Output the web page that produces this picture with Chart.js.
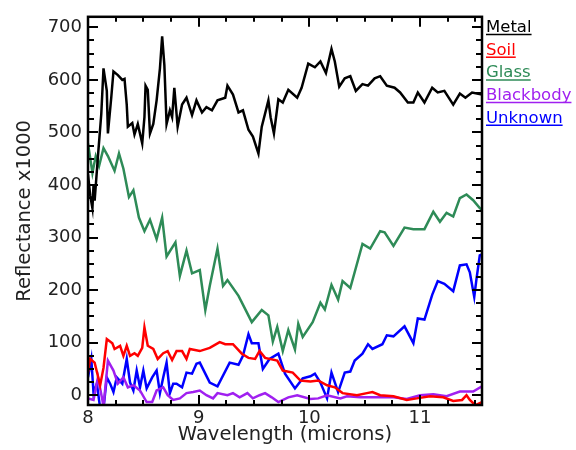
<!DOCTYPE html>
<html>
<head>
<meta charset="utf-8">
<script src="https://cdn.jsdelivr.net/npm/chart.js@4.4.0/dist/chart.umd.min.js"></script>
<style>
  html, body { margin: 0; padding: 0; background: #fff; }
</style>
</head>
<body>
<canvas id="spectraChart" width="576" height="450"></canvas>
<script>
'use strict'

// values (reflectance x1000)
const metalWl = [8.00, 8.02, 8.04, 8.05, 8.06, 8.09, 8.12, 8.14, 8.17, 8.18, 8.21, 8.23, 8.27, 8.31, 8.33, 8.35, 8.36, 8.40, 8.42, 8.45, 8.49, 8.51, 8.52, 8.54, 8.56, 8.59, 8.62, 8.65, 8.67, 8.69, 8.71, 8.74, 8.76, 8.78, 8.81, 8.85, 8.89, 8.94, 8.98, 9.03, 9.07, 9.12, 9.17, 9.24, 9.26, 9.31, 9.36, 9.40, 9.45, 9.49, 9.54, 9.57, 9.63, 9.65, 9.68, 9.72, 9.76, 9.81, 9.89, 9.93, 9.99, 10.05, 10.10, 10.15, 10.20, 10.23, 10.27, 10.32, 10.37, 10.42, 10.48, 10.53, 10.59, 10.64, 10.70, 10.77, 10.82, 10.89, 10.94, 10.98, 11.04, 11.11, 11.16, 11.22, 11.30, 11.36, 11.41, 11.47, 11.56];
const metalVal = [420, 380, 356, 400, 370, 455, 535, 622, 579, 498, 566, 616, 609, 600, 602, 553, 511, 518, 496, 516, 479, 529, 589, 581, 498, 516, 561, 622, 683, 628, 516, 542, 529, 585, 511, 553, 566, 533, 561, 538, 548, 542, 561, 566, 589, 572, 538, 542, 505, 492, 460, 511, 561, 529, 498, 563, 557, 581, 566, 585, 631, 624, 635, 613, 659, 635, 587, 603, 607, 579, 592, 589, 603, 607, 589, 585, 576, 557, 557, 576, 557, 585, 576, 579, 553, 574, 566, 576, 572];

const soilWl = [8.00, 8.02, 8.06, 8.11, 8.14, 8.17, 8.22, 8.24, 8.29, 8.32, 8.35, 8.38, 8.42, 8.45, 8.49, 8.51, 8.54, 8.59, 8.63, 8.68, 8.72, 8.76, 8.80, 8.85, 8.89, 8.92, 9.01, 9.10, 9.19, 9.24, 9.31, 9.39, 9.45, 9.51, 9.55, 9.60, 9.71, 9.76, 9.85, 9.92, 10.01, 10.08, 10.16, 10.23, 10.30, 10.43, 10.52, 10.57, 10.64, 10.76, 10.88, 10.97, 11.09, 11.21, 11.30, 11.38, 11.42, 11.45, 11.50, 11.56];
const soilVal = [43, 69, 62, 19, 52, 107, 99, 88, 94, 75, 94, 75, 80, 75, 90, 129, 94, 88, 69, 80, 84, 67, 84, 84, 69, 88, 84, 90, 101, 97, 97, 79, 71, 69, 84, 71, 66, 47, 43, 28, 26, 28, 19, 15, 4, 0, 4, 6, 0, -2, -9, -6, -2, -4, -11, -9, 0, -9, -19, -13];

const glassWl = [8.00, 8.04, 8.07, 8.10, 8.14, 8.18, 8.24, 8.28, 8.32, 8.37, 8.41, 8.46, 8.51, 8.56, 8.62, 8.67, 8.71, 8.79, 8.83, 8.89, 8.94, 9.01, 9.06, 9.10, 9.17, 9.22, 9.26, 9.36, 9.48, 9.57, 9.63, 9.67, 9.71, 9.76, 9.81, 9.87, 9.90, 9.94, 10.03, 10.10, 10.14, 10.20, 10.26, 10.30, 10.37, 10.48, 10.55, 10.64, 10.68, 10.76, 10.86, 10.94, 11.04, 11.12, 11.18, 11.24, 11.30, 11.36, 11.42, 11.48, 11.54, 11.56];
const glassVal = [479, 423, 455, 436, 470, 455, 427, 460, 431, 377, 390, 338, 312, 334, 297, 338, 264, 291, 227, 275, 232, 238, 162, 208, 279, 208, 219, 189, 139, 162, 152, 102, 130, 84, 124, 87, 136, 111, 139, 176, 163, 210, 182, 217, 204, 288, 279, 312, 310, 284, 319, 316, 316, 349, 330, 347, 340, 375, 382, 371, 356, 353];

const blackbodyWl = [8.00, 8.05, 8.09, 8.13, 8.14, 8.18, 8.23, 8.27, 8.32, 8.36, 8.41, 8.47, 8.53, 8.58, 8.62, 8.68, 8.72, 8.77, 8.83, 8.89, 8.95, 9.01, 9.07, 9.13, 9.17, 9.26, 9.31, 9.37, 9.44, 9.49, 9.55, 9.60, 9.66, 9.72, 9.81, 9.89, 10.01, 10.08, 10.16, 10.28, 10.34, 10.46, 10.57, 10.76, 10.88, 11.00, 11.12, 11.24, 11.36, 11.48, 11.56];
const blackbodyVal = [-6, -9, 34, -9, -22, 66, 47, 22, 34, 15, 19, 9, -13, -13, 9, 15, 0, -9, -6, 4, 6, 9, 0, -6, 4, 0, 4, -4, 4, -6, 0, 4, -4, -13, -4, 0, -7, -6, 0, -6, -2, -4, -4, -4, -7, 0, 2, -2, 7, 7, 17];

const unknownWl = [8.00, 8.03, 8.05, 8.08, 8.11, 8.14, 8.17, 8.20, 8.23, 8.26, 8.31, 8.35, 8.38, 8.41, 8.44, 8.47, 8.50, 8.53, 8.58, 8.62, 8.65, 8.68, 8.71, 8.74, 8.77, 8.80, 8.85, 8.89, 8.94, 8.98, 9.01, 9.10, 9.17, 9.28, 9.36, 9.40, 9.45, 9.48, 9.54, 9.58, 9.64, 9.72, 9.78, 9.87, 9.94, 10.01, 10.05, 10.10, 10.16, 10.20, 10.26, 10.32, 10.37, 10.41, 10.48, 10.53, 10.57, 10.66, 10.70, 10.76, 10.86, 10.94, 10.98, 11.04, 11.11, 11.16, 11.22, 11.30, 11.36, 11.42, 11.45, 11.49, 11.51, 11.54, 11.56];
const unknownVal = [34, 69, 4, 22, -25, -25, 34, 22, 6, 34, 22, 69, 24, 9, 47, 15, 47, 13, 34, 47, 4, 34, 62, 4, 22, 22, 15, 43, 41, 60, 62, 24, 17, 62, 58, 75, 116, 99, 99, 50, 69, 79, 41, 13, 32, 36, 41, 24, -6, 43, 6, 43, 45, 66, 79, 97, 88, 97, 114, 112, 131, 99, 146, 144, 191, 217, 212, 198, 247, 249, 234, 187, 221, 266, 268];

const seriesNames = ['Metal', 'Soil', 'Glass', 'Blackbody', 'Unknown'];
const seriesColors = ['#000000', '#ff0000', '#2e8b57', '#a020f0', '#0000ff'];
const xTicks = [8, 9, 10, 11];
const yTicks = [0, 100, 200, 300, 400, 500, 600, 700];

const seriesWl = [metalWl, soilWl, glassWl, blackbodyWl, unknownWl];
const seriesVal = [metalVal, soilVal, glassVal, blackbodyVal, unknownVal];

const datasets = seriesNames.map(function(name, i) {
  return {
    label: name,
    data: seriesWl[i].map(function(w, j) { return { x: w, y: seriesVal[i][j] }; }),
    borderColor: seriesColors[i],
    borderWidth: 2.5,
    pointRadius: 0,
    tension: 0,
    clip: 0
  };
});

// IDL style box with inward ticks on all four sides
const frameTicks = {
  id: 'frameTicks',
  afterDatasetsDraw(chart) {
    const { ctx, chartArea: a, scales: { x, y } } = chart;
    ctx.save();
    ctx.strokeStyle = '#000';
    ctx.lineWidth = 2;
    ctx.beginPath();
    for (let v = 8; v <= x.max + 1e-6; v += 0.25) {
      const px = Math.round(x.getPixelForValue(v));
      const len = xTicks.includes(v) ? 10 : 5;
      ctx.moveTo(px, a.bottom); ctx.lineTo(px, a.bottom - len);
      ctx.moveTo(px, a.top); ctx.lineTo(px, a.top + len);
    }
    for (let v = 0; v <= y.max; v += 25) {
      const py = Math.round(y.getPixelForValue(v));
      const len = yTicks.includes(v) ? 10 : 6;
      ctx.moveTo(a.left, py); ctx.lineTo(a.left + len, py);
      ctx.moveTo(a.right, py); ctx.lineTo(a.right - len, py);
    }
    ctx.stroke();
    ctx.lineWidth = 2.5;
    ctx.strokeRect(a.left, a.top, a.right - a.left, a.bottom - a.top);
    ctx.restore();
  }
};

// underlined legend to the right of the box
const sideLegend = {
  id: 'sideLegend',
  afterDraw(chart) {
    const { ctx, chartArea: a } = chart;
    ctx.save();
    ctx.font = '16.5px "DejaVu Sans"';
    ctx.textBaseline = 'alphabetic';
    ctx.textAlign = 'left';
    seriesNames.forEach(function(name, i) {
      const tx = a.right + 4;
      const ty = 32 + i * 22.7;
      ctx.fillStyle = seriesColors[i];
      ctx.fillText(name, tx, ty);
      const w = ctx.measureText(name).width;
      ctx.strokeStyle = seriesColors[i];
      ctx.lineWidth = 1.5;
      ctx.beginPath();
      ctx.moveTo(tx, ty + 2.5);
      ctx.lineTo(tx + w, ty + 2.5);
      ctx.stroke();
    });
    ctx.restore();
  }
};

const ctx = document.getElementById('spectraChart').getContext('2d');
const spectraChart = new Chart(ctx, {
  type: 'line',
  data: { datasets: datasets },
  plugins: [frameTicks, sideLegend],
  options: {
    responsive: false,
    animation: false,
    devicePixelRatio: 1,
    layout: { padding: { top: 7, right: 94, left: 0, bottom: 0 } },
    plugins: {
      legend: { display: false },
      tooltip: { enabled: false }
    },
    scales: {
      x: {
        type: 'linear',
        min: 8,
        max: 11.56,
        grid: { display: false, drawTicks: false },
        border: { display: false },
        afterBuildTicks: function(s) { s.ticks = xTicks.map(function(v) { return { value: v }; }); },
        afterFit: function(s) { s.height = 45; },
        ticks: {
          padding: 3,
          maxRotation: 0,
          color: '#222',
          font: { family: 'DejaVu Sans', size: 18 }
        },
        title: {
          display: true,
          text: 'Wavelength (microns)',
          color: '#222',
          padding: { top: 0, bottom: 3 },
          font: { family: 'DejaVu Sans', size: 19.5 }
        }
      },
      y: {
        type: 'linear',
        min: -18.6,
        max: 720,
        grid: { display: false, drawTicks: false },
        border: { display: false },
        afterBuildTicks: function(s) { s.ticks = yTicks.map(function(v) { return { value: v }; }); },
        afterFit: function(s) { s.width = 88; },
        ticks: {
          padding: 6,
          color: '#222',
          font: { family: 'DejaVu Sans', size: 18 }
        },
        title: {
          display: true,
          text: 'Reflectance x1000',
          color: '#222',
          padding: { top: 13, bottom: 0 },
          font: { family: 'DejaVu Sans', size: 19.5 }
        }
      }
    }
  }
});
</script>
</body>
</html>
